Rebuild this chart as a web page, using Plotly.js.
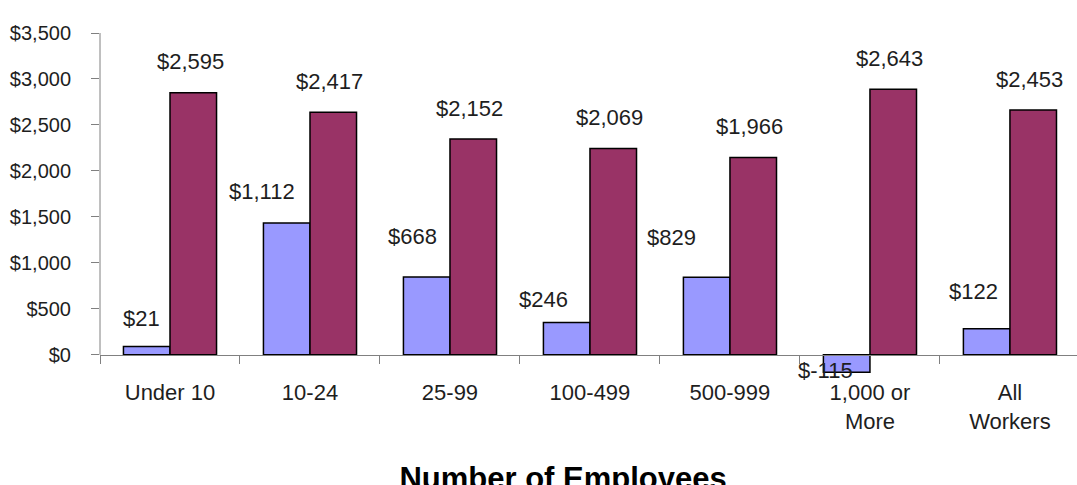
<!DOCTYPE html>
<html>
<head>
<meta charset="utf-8">
<script src="https://cdn.plot.ly/plotly-3.0.1.min.js"></script>
<style>
  html, body { margin: 0; padding: 0; background: #fff; }
  #chart { width: 1077px; height: 485px; }
</style>
</head>
<body>
<div id="chart"></div>
<script>
// ---- data ----
var categories = ['Under 10', '10-24', '25-99', '100-499', '500-999', '1,000 or<br>More', 'All<br>Workers'];
var blueValues = [92, 1435, 847, 351, 844, -190, 285];
var redValues  = [2850, 2637, 2346, 2245, 2147, 2887, 2662];
var blueLabels = ['$21', '$1,112', '$668', '$246', '$829', '$-115', '$122'];
var redLabels  = ['$2,595', '$2,417', '$2,152', '$2,069', '$1,966', '$2,643', '$2,453'];

// ---- styling / placement (not data) ----
var blueLabelShift = [[-29, 28], [-48, 31], [-37, 40], [-46, 23], [-58, 40], [-44, 2], [-36, 37]];
var redLabelShift = [20, 31];
var yMin = -230, yMax = 3500;
var FONT = 'Liberation Sans, Arial, sans-serif';
var TXT = '#1e1e1e';

var traces = [
  {
    type: 'bar', x: categories, y: blueValues, name: 'A',
    marker: { color: '#9999FF', line: { color: '#000000', width: 1.5 } },
    hoverinfo: 'skip'
  },
  {
    type: 'bar', x: categories, y: redValues, name: 'B',
    marker: { color: '#993366', line: { color: '#000000', width: 1.5 } },
    hoverinfo: 'skip'
  }
];

var annotations = [];
categories.forEach(function (c, i) {
  annotations.push({
    xref: 'x', yref: 'y', x: c, y: blueValues[i], text: blueLabels[i],
    xshift: blueLabelShift[i][0], yshift: blueLabelShift[i][1],
    xanchor: 'center', yanchor: 'middle', showarrow: false,
    font: { family: FONT, size: 22, color: TXT }
  });
  annotations.push({
    xref: 'x', yref: 'y', x: c, y: redValues[i], text: redLabels[i],
    xshift: redLabelShift[0], yshift: redLabelShift[1],
    xanchor: 'center', yanchor: 'middle', showarrow: false,
    font: { family: FONT, size: 22, color: TXT }
  });
});

var zeroPos = (0 - yMin) / (yMax - yMin);

var layout = {
  width: 1077, height: 485,
  margin: { l: 100, r: 0, t: 33, b: 109 },
  paper_bgcolor: '#ffffff', plot_bgcolor: '#ffffff',
  showlegend: false,
  barmode: 'group', bargap: 0.335, bargroupgap: 0,
  font: { family: FONT, color: TXT },
  title: {
    text: '<b>Number of Employees</b>',
    font: { family: FONT, size: 31, color: '#000000' },
    xref: 'container', yref: 'container', x: 0.5228, xanchor: 'center',
    y: 0.036, yanchor: 'top'
  },
  xaxis: {
    type: 'category',
    range: [-0.5, 6.479],
    anchor: 'free', position: zeroPos,
    showline: true, linecolor: '#808080', linewidth: 1,
    ticks: 'outside', tickson: 'boundaries', ticklen: 8, tickcolor: '#808080', tickwidth: 1,
    ticklabelstandoff: 18,
    tickfont: { family: FONT, size: 22, color: TXT },
    showgrid: false, zeroline: false, fixedrange: true
  },
  yaxis: {
    range: [yMin, yMax],
    tick0: 0, dtick: 500,
    tickprefix: '$', tickformat: ',d',
    showline: false, zeroline: false, showgrid: false,
    ticks: 'outside', ticklen: 8, tickcolor: '#808080', tickwidth: 1,
    ticklabelstandoff: 16,
    tickfont: { family: FONT, size: 20, color: TXT },
    fixedrange: true
  },
  shapes: [
    { type: 'line', xref: 'paper', yref: 'y', x0: 0, x1: 0, y0: 0, y1: yMax,
      line: { color: '#808080', width: 1 }, layer: 'below' }
  ],
  annotations: annotations
};

Plotly.newPlot('chart', traces, layout, { staticPlot: true, displayModeBar: false });
</script>
</body>
</html>
